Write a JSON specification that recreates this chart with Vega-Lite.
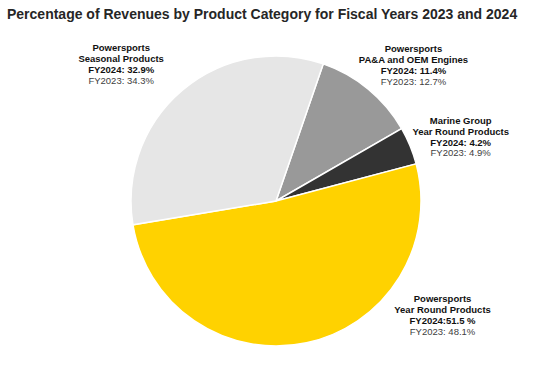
{
  "$schema": "https://vega.github.io/schema/vega-lite/v6.json",
  "width": 544,
  "height": 342,
  "autosize": {"type": "none"},
  "padding": {"left": 4, "top": 30, "right": 0, "bottom": 0},
  "background": "white",
  "title": {
    "text": "Percentage of Revenues by Product Category for Fiscal Years 2023 and 2024",
    "anchor": "start",
    "frame": "group",
    "font": "Liberation Sans",
    "fontSize": 14,
    "fontWeight": "bold",
    "color": "#262626",
    "baseline": "alphabetic",
    "offset": 12,
    "dx": 3,
    "dy": 15
  },
  "config": {"view": {"stroke": null}},
  "data": {
    "values": [
      {"category": "PA&A and OEM Engines", "order": 1, "share": 11.4, "label": ["Powersports", "PA&A and OEM Engines", "FY2024: 11.4%"], "prior": "FY2023: 12.7%"},
      {"category": "Marine Year Round", "order": 2, "share": 4.2, "label": ["Marine Group", "Year Round Products", "FY2024: 4.2%"], "prior": "FY2023: 4.9%"},
      {"category": "Powersports Year Round", "order": 3, "share": 51.5, "label": ["Powersports", "Year Round Products", "FY2024:51.5 %"], "prior": "FY2023: 48.1%"},
      {"category": "Seasonal", "order": 4, "share": 32.9, "label": ["Powersports", "Seasonal Products", "FY2024: 32.9%"], "prior": "FY2023: 34.3%"}
    ]
  },
  "transform": [
    {"stack": "share", "groupby": [], "sort": [{"field": "order"}], "as": ["s0", "s1"]},
    {"calculate": "(datum.s0 + datum.s1) / 2", "as": "smid"}
  ],
  "layer": [
    {
      "mark": {"type": "arc", "outerRadius": 145, "stroke": "white", "strokeWidth": 1.5},
      "encoding": {
        "theta": {"field": "s0", "type": "quantitative", "stack": null, "scale": {"domain": [0, 100], "range": [0.3316, 6.6148]}},
        "theta2": {"field": "s1"},
        "color": {
          "field": "category", "type": "nominal", "legend": null,
          "scale": {
            "domain": ["PA&A and OEM Engines", "Marine Year Round", "Powersports Year Round", "Seasonal"],
            "range": ["#999999", "#333333", "#FFD200", "#E6E6E6"]
          }
        }
      }
    },
    {
      "transform": [{"filter": "datum.category == 'Seasonal'"}],
      "mark": {"type": "text", "radius": 150, "dx": -58, "dy": -43, "align": "center", "baseline": "top", "font": "Liberation Sans", "fontSize": 9.5, "fontWeight": "bold", "lineHeight": 11, "color": "#111111"},
      "encoding": {"theta": {"field": "smid", "type": "quantitative", "stack": null}, "text": {"field": "label"}}
    },
    {
      "transform": [{"filter": "datum.category == 'Seasonal'"}],
      "mark": {"type": "text", "radius": 150, "dx": -58, "dy": -10, "align": "center", "baseline": "top", "font": "Liberation Sans", "fontSize": 9.5, "color": "#404040"},
      "encoding": {"theta": {"field": "smid", "type": "quantitative", "stack": null}, "text": {"field": "prior"}}
    },
    {
      "transform": [{"filter": "datum.category == 'PA&A and OEM Engines'"}],
      "mark": {"type": "text", "radius": 150, "dx": 42, "dy": -41, "align": "center", "baseline": "top", "font": "Liberation Sans", "fontSize": 9.5, "fontWeight": "bold", "lineHeight": 11, "color": "#111111"},
      "encoding": {"theta": {"field": "smid", "type": "quantitative", "stack": null}, "text": {"field": "label"}}
    },
    {
      "transform": [{"filter": "datum.category == 'PA&A and OEM Engines'"}],
      "mark": {"type": "text", "radius": 150, "dx": 42, "dy": -8, "align": "center", "baseline": "top", "font": "Liberation Sans", "fontSize": 9.5, "color": "#404040"},
      "encoding": {"theta": {"field": "smid", "type": "quantitative", "stack": null}, "text": {"field": "prior"}}
    },
    {
      "transform": [{"filter": "datum.category == 'Marine Year Round'"}],
      "mark": {"type": "text", "radius": 150, "dx": 46, "dy": -28, "align": "center", "baseline": "top", "font": "Liberation Sans", "fontSize": 9.5, "fontWeight": "bold", "lineHeight": 11, "color": "#111111"},
      "encoding": {"theta": {"field": "smid", "type": "quantitative", "stack": null}, "text": {"field": "label"}}
    },
    {
      "transform": [{"filter": "datum.category == 'Marine Year Round'"}],
      "mark": {"type": "text", "radius": 150, "dx": 46, "dy": 4, "align": "center", "baseline": "top", "font": "Liberation Sans", "fontSize": 9.5, "color": "#404040"},
      "encoding": {"theta": {"field": "smid", "type": "quantitative", "stack": null}, "text": {"field": "prior"}}
    },
    {
      "transform": [{"filter": "datum.category == 'Powersports Year Round'"}],
      "mark": {"type": "text", "radius": 150, "dx": 135, "dy": -54, "align": "center", "baseline": "top", "font": "Liberation Sans", "fontSize": 9.5, "fontWeight": "bold", "lineHeight": 11, "color": "#111111"},
      "encoding": {"theta": {"field": "smid", "type": "quantitative", "stack": null}, "text": {"field": "label"}}
    },
    {
      "transform": [{"filter": "datum.category == 'Powersports Year Round'"}],
      "mark": {"type": "text", "radius": 150, "dx": 135, "dy": -21, "align": "center", "baseline": "top", "font": "Liberation Sans", "fontSize": 9.5, "color": "#404040"},
      "encoding": {"theta": {"field": "smid", "type": "quantitative", "stack": null}, "text": {"field": "prior"}}
    }
  ]
}
